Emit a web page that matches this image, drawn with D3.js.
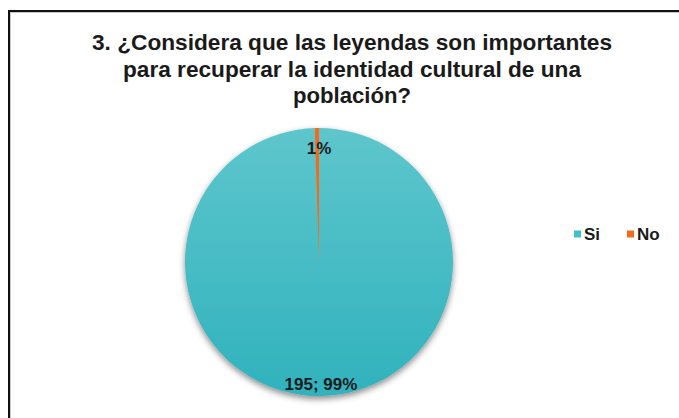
<!DOCTYPE html>
<html>
<head>
<meta charset="utf-8">
<script src="https://cdn.jsdelivr.net/npm/d3@7"></script>
<style>
  body { margin: 0; background: #fff; }
  svg { display: block; font-family: "Liberation Sans", Arial, sans-serif; }
</style>
</head>
<body>
<svg width="679" height="418"></svg>
<script>
var categories = ["Si", "No"];
var values = [195, 1];
var titleLines = [
    "3. ¿Considera que las leyendas son importantes",
    "para recuperar la identidad cultural de una",
    "población?"
];

var width = 679, height = 418;
var svg = d3.select("svg");

var defs = svg.append("defs");

var grad = defs.append("linearGradient")
    .attr("id", "siGrad")
    .attr("x1", 0).attr("y1", 0).attr("x2", 0).attr("y2", 1);
grad.append("stop").attr("offset", "0%").attr("stop-color", "#5ec6cc");
grad.append("stop").attr("offset", "100%").attr("stop-color", "#30b2bd");

var shadow = defs.append("filter")
    .attr("id", "shadow")
    .attr("x", "-20%").attr("y", "-20%")
    .attr("width", "140%").attr("height", "150%");
shadow.append("feDropShadow")
    .attr("dx", 0).attr("dy", 3)
    .attr("stdDeviation", 3)
    .attr("flood-color", "#000")
    .attr("flood-opacity", 0.45);

// chart frame (only top and left edges fall inside the picture)
svg.append("path")
    .attr("d", "M9," + height + " V11 H" + width)
    .attr("fill", "none")
    .attr("stroke", "#c8c8c8")
    .attr("stroke-width", 2)
    .attr("transform", "translate(1,1)");
svg.append("path")
    .attr("d", "M9," + height + " V11 H" + width)
    .attr("fill", "none")
    .attr("stroke", "#111")
    .attr("stroke-width", 2);

// title
var titleWidths = [520, 458, 118];
svg.append("g").attr("class", "title")
    .selectAll("text")
    .data(titleLines)
    .enter().append("text")
    .attr("x", 352)
    .attr("y", function(d, i) { return 50 + i * 26.5; })
    .attr("text-anchor", "middle")
    .attr("font-size", "22px")
    .attr("font-weight", "bold")
    .attr("fill", "#1a1a1a")
    .attr("textLength", function(d, i) { return titleWidths[i]; })
    .attr("lengthAdjust", "spacingAndGlyphs")
    .text(function(d) { return d; });

// pie
var cx = 319, cy = 262, r = 134;
var color = d3.scaleOrdinal().domain(categories).range(["url(#siGrad)", "#f26b1d"]);
var legendColor = d3.scaleOrdinal().domain(categories).range(["#45bfc8", "#f26b1d"]);

var total = d3.sum(values);
var pie = d3.pie().sort(null).value(function(d) { return d.value; });
var arcs = pie(categories.map(function(c, i) { return { name: c, value: values[i] }; }));

var arc = d3.arc().innerRadius(0).outerRadius(r);

var g = svg.append("g").attr("transform", "translate(" + cx + "," + cy + ")");

g.append("g")
    .attr("filter", "url(#shadow)")
    .selectAll("path")
    .data(arcs)
    .enter().append("path")
    .attr("d", arc)
    .attr("fill", function(d) { return color(d.data.name); });

// data labels
var labelRadius = [0.91, 0.85];
g.selectAll("text.lbl")
    .data(arcs)
    .enter().append("text")
    .attr("class", "lbl")
    .attr("x", function(d, i) {
        var a = (d.startAngle + d.endAngle) / 2;
        return i === 1 ? 0 : Math.sin(a) * r * labelRadius[i];
    })
    .attr("y", function(d, i) {
        var a = (d.startAngle + d.endAngle) / 2;
        return -Math.cos(a) * r * labelRadius[i];
    })
    .attr("dy", "0.36em")
    .attr("text-anchor", "middle")
    .attr("font-size", "17px")
    .attr("font-weight", "bold")
    .attr("fill", "#1a1a1a")
    .text(function(d, i) {
        var pct = Math.round(d.data.value / total * 100) + "%";
        return i === 0 ? d.data.value + "; " + pct : pct;
    });

// legend
var legendX = d3.scalePoint().domain(categories).range([574, 627]);
var item = svg.append("g").attr("class", "legend")
    .selectAll("g")
    .data(categories)
    .enter().append("g")
    .attr("transform", function(d) { return "translate(" + legendX(d) + ",234)"; });
item.append("rect")
    .attr("x", 0).attr("y", -3.5)
    .attr("width", 7).attr("height", 7)
    .attr("fill", function(d) { return legendColor(d); });
item.append("text")
    .attr("x", 10)
    .attr("dy", "0.36em")
    .attr("font-size", "17px")
    .attr("font-weight", "bold")
    .attr("fill", "#1a1a1a")
    .text(function(d) { return d; });
</script>
</body>
</html>
